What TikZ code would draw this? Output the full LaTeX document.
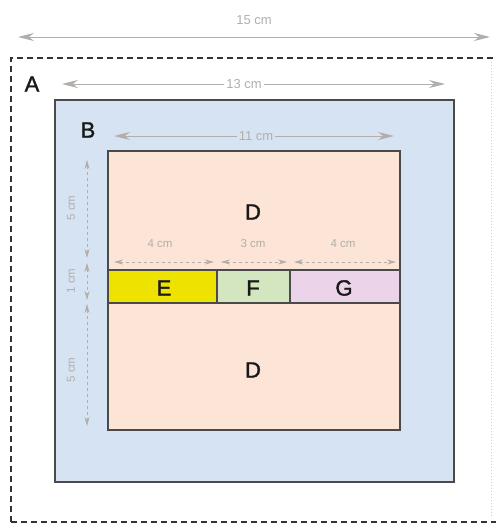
\documentclass[tikz,border=0pt]{standalone}
\usepackage{fontspec}
\setmainfont{Liberation Sans}
\newfontfamily\heavyfont[FakeBold=1.6]{Liberation Sans}
\usetikzlibrary{arrows.meta}
\definecolor{bfill}{HTML}{D5E3F2}
\definecolor{dfill}{HTML}{FCE4D6}
\definecolor{efill}{HTML}{EEE300}
\definecolor{ffill}{HTML}{D4E6C0}
\definecolor{gfill}{HTML}{EBD3EA}
\definecolor{edge}{HTML}{4A4A4A}
\definecolor{dimc}{HTML}{B3AEAA}
\tikzset{
  box/.style={draw=edge, line width=1.6pt},
  letter/.style={font=\heavyfont\fontsize{22}{22}\selectfont, text=black!90, inner sep=0pt},
  dimtxt/.style={font=\fontsize{13}{13}\selectfont, text=dimc, inner sep=2pt},
  smalltxt/.style={font=\fontsize{11.5}{11.5}\selectfont, text=dimc, inner sep=1pt},
  dimline/.style={draw=dimc, line width=1pt, {Stealth[length=16pt,width=8pt]}-{Stealth[length=16pt,width=8pt]}},
  dimline2/.style={draw=dimc, line width=0.7pt, dashed, {Stealth[length=9pt,width=5pt]}-{Stealth[length=9pt,width=5pt]}}
}
\begin{document}
\begin{tikzpicture}[x=1pt,y=-1pt]
\useasboundingbox (0,0) rectangle (496,525);
\fill[white] (0,0) rectangle (496,525);
% A
\draw[black!80, line width=2.4pt, dash pattern=on 6pt off 4pt] (11,522) -- (11,58) -- (496,58);
\draw[black!80, line width=2.4pt, dash pattern=on 6pt off 4pt] (11,522) -- (496,522);
\draw[dimc!60, line width=1pt, dotted] (491,62) -- (491,518);
\node[letter] (A) at (32,84) {A};
% 15 cm
\coordinate (l15) at (18,37);
\coordinate (r15) at (490,37);
\draw[dimline] (l15) -- (r15);
\node[dimtxt, fill=white] (t15) at (254,20) {15 cm};
% B
\draw[box, fill=bfill] (55,100) rectangle (454,482);
\node[letter] (B) at (88,130) {B};
% 13 cm
\coordinate (l13) at (62,84);
\coordinate (r13) at (445,84);
\draw[dimline] (l13) -- (r13);
\node[dimtxt, fill=white] (t13) at (244,84) {13 cm};
% D
\draw[box, fill=dfill] (108,151) rectangle (400,430);
\node[letter] (D1) at (253,212) {D};
\node[letter] (D2) at (253,370) {D};
% 11 cm
\coordinate (l11) at (114,136);
\coordinate (r11) at (394,136);
\draw[dimline] (l11) -- (r11);
\node[dimtxt, fill=bfill] (t11) at (256,136) {11 cm};
% strip
\draw[box, fill=efill] (108,270) rectangle (217,303);
\draw[box, fill=ffill] (217,270) rectangle (290,303);
\draw[box, fill=gfill] (290,270) rectangle (400,303);
\node[letter] (E) at (164,288) {E};
\node[letter] (F) at (253,288) {F};
\node[letter] (G) at (344,288) {G};
% 4 3 4 cm
\coordinate (e1) at (114,262); \coordinate (e2) at (214,262);
\coordinate (f1) at (221,262); \coordinate (f2) at (287,262);
\coordinate (g1) at (294,262); \coordinate (g2) at (396,262);
\draw[dimline2] (e1) -- (e2);
\draw[dimline2] (f1) -- (f2);
\draw[dimline2] (g1) -- (g2);
\node[smalltxt] (t4a) at (160,244) {4 cm};
\node[smalltxt] (t3) at (253,244) {3 cm};
\node[smalltxt] (t4b) at (343,244) {4 cm};
% vertical
\coordinate (v1) at (87,160); \coordinate (v2) at (87,258);
\coordinate (v3) at (87,263); \coordinate (v4) at (87,300);
\coordinate (v5) at (87,304); \coordinate (v6) at (87,426);
\draw[dimline2] (v1) -- (v2);
\draw[dimline2] (v3) -- (v4);
\draw[dimline2] (v5) -- (v6);
\node[smalltxt, rotate=90] (tv1) at (71,208) {5 cm};
\node[smalltxt, rotate=90] (tv2) at (71,281) {1 cm};
\node[smalltxt, rotate=90] (tv3) at (71,370) {5 cm};
\end{tikzpicture}
\end{document}
